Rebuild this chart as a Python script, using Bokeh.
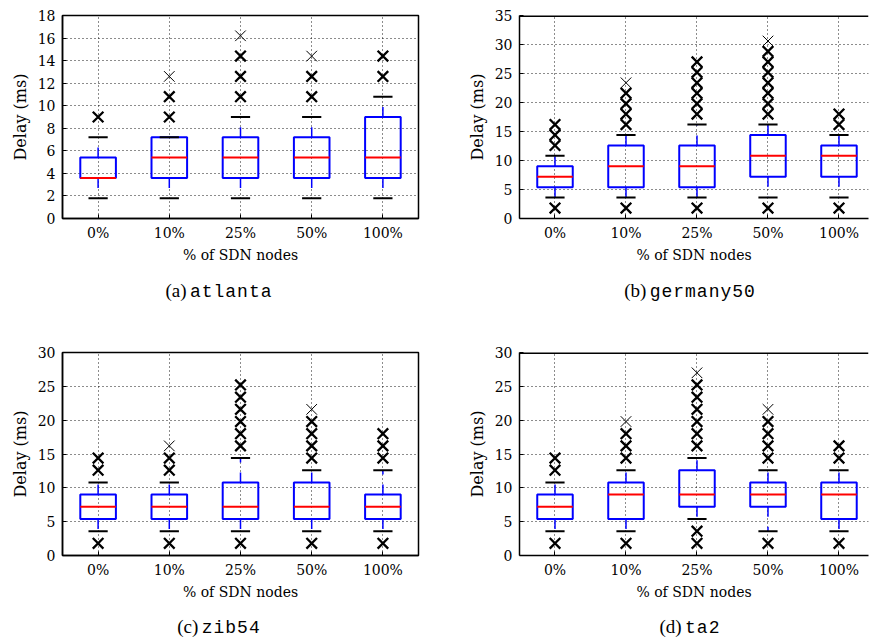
from collections import Counter
from bokeh.plotting import figure
from bokeh.models import FixedTicker, Div, Span
from bokeh.layouts import column, row
from bokeh.embed import file_html
from bokeh.resources import INLINE

categories = ["0%", "10%", "25%", "50%", "100%"]

# (a) atlanta
atlanta_lo = [1.8, 1.8, 1.8, 1.8, 1.8]
atlanta_q1 = [3.6, 3.6, 3.6, 3.6, 3.6]
atlanta_med = [3.6, 5.4, 5.4, 5.4, 5.4]
atlanta_q3 = [5.4, 7.2, 7.2, 7.2, 9.0]
atlanta_hi = [7.2, 7.2, 9.0, 9.0, 10.8]
atlanta_out = [
    [9.0, 9.0],
    [9.0, 9.0, 10.8, 10.8, 12.6],
    [10.8, 10.8, 12.6, 12.6, 14.4, 14.4, 16.2],
    [10.8, 10.8, 12.6, 12.6, 14.4],
    [12.6, 12.6, 14.4, 14.4],
]

# (b) germany50
germany50_lo = [3.6, 3.6, 3.6, 3.6, 3.6]
germany50_q1 = [5.4, 5.4, 5.4, 7.2, 7.2]
germany50_med = [7.2, 9.0, 9.0, 10.8, 10.8]
germany50_q3 = [9.0, 12.6, 12.6, 14.4, 12.6]
germany50_hi = [10.8, 14.4, 16.2, 16.2, 14.4]
germany50_out = [
    [1.8, 1.8, 12.6, 12.6, 14.4, 14.4, 16.2, 16.2],
    [1.8, 1.8, 16.2, 16.2, 18.0, 18.0, 19.8, 19.8, 21.6, 21.6, 23.4],
    [1.8, 1.8, 18.0, 18.0, 19.8, 19.8, 21.6, 21.6, 23.4, 23.4, 25.2, 25.2, 27.0, 27.0],
    [1.8, 1.8, 1.8, 18.0, 18.0, 19.8, 19.8, 21.6, 21.6, 23.4, 23.4, 25.2, 25.2,
     27.0, 27.0, 28.8, 28.8, 30.6],
    [1.8, 1.8, 16.2, 16.2, 18.0, 18.0],
]

# (c) zib54
zib54_lo = [3.6, 3.6, 3.6, 3.6, 3.6]
zib54_q1 = [5.4, 5.4, 5.4, 5.4, 5.4]
zib54_med = [7.2, 7.2, 7.2, 7.2, 7.2]
zib54_q3 = [9.0, 9.0, 10.8, 10.8, 9.0]
zib54_hi = [10.8, 10.8, 14.4, 12.6, 12.6]
zib54_out = [
    [1.8, 1.8, 12.6, 12.6, 14.4, 14.4],
    [1.8, 1.8, 12.6, 12.6, 14.4, 14.4, 16.2],
    [1.8, 1.8, 16.2, 16.2, 18.0, 18.0, 19.8, 19.8, 21.6, 21.6, 23.4, 23.4, 25.2, 25.2],
    [1.8, 1.8, 14.4, 14.4, 16.2, 16.2, 18.0, 18.0, 19.8, 19.8, 21.6],
    [1.8, 1.8, 14.4, 14.4, 16.2, 16.2, 18.0, 18.0],
]

# (d) ta2
ta2_lo = [3.6, 3.6, 5.4, 3.6, 3.6]
ta2_q1 = [5.4, 5.4, 7.2, 7.2, 5.4]
ta2_med = [7.2, 9.0, 9.0, 9.0, 9.0]
ta2_q3 = [9.0, 10.8, 12.6, 10.8, 10.8]
ta2_hi = [10.8, 12.6, 14.4, 12.6, 12.6]
ta2_out = [
    [1.8, 1.8, 12.6, 12.6, 14.4, 14.4],
    [1.8, 1.8, 14.4, 14.4, 16.2, 16.2, 18.0, 18.0, 19.8],
    [1.8, 1.8, 3.6, 3.6, 16.2, 16.2, 18.0, 18.0, 19.8, 19.8, 21.6, 21.6, 23.4, 23.4,
     25.2, 25.2, 27.0],
    [1.8, 1.8, 14.4, 14.4, 16.2, 16.2, 18.0, 18.0, 19.8, 19.8, 21.6],
    [1.8, 1.8, 14.4, 14.4, 16.2, 16.2],
]

y_max = {"a": 18, "b": 35, "c": 30, "d": 30}
y_step = {"a": 2, "b": 5, "c": 5, "d": 5}

TICK_FONT = "DejaVu Serif"
PX_PER_UNIT = 71.2
FIG_H = 265


def style_axis(ax, label_size):
    ax.major_label_text_font = TICK_FONT
    ax.major_label_text_font_size = "14px"
    ax.major_label_text_color = "black"
    ax.axis_label_text_font = TICK_FONT
    ax.axis_label_text_font_size = label_size
    ax.axis_label_text_font_style = "normal"
    ax.axis_label_text_color = "black"
    ax.axis_line_color = "black"
    ax.axis_line_width = 1.5
    ax.major_tick_in = 4
    ax.major_tick_out = 0
    ax.major_tick_line_color = "black"
    ax.minor_tick_line_color = None


def make_panel(lo, q1, med, q3, hi, outs, ymax, ystep, width, left_border, right_border,
               clipped):
    frame_w = width - left_border - right_border
    xend = 0.5 + frame_w / PX_PER_UNIT
    p = figure(width=width, height=FIG_H, x_range=(0.5, xend), y_range=(0, ymax),
               output_backend="svg", toolbar_location=None,
               min_border_left=left_border, min_border_right=right_border,
               min_border_top=15, min_border_bottom=46)
    xs = [i + 1 for i in range(len(categories))]
    yticks = list(range(0, ymax + 1, ystep))

    p.xaxis.ticker = FixedTicker(ticks=xs)
    p.xaxis.major_label_overrides = {x: c for x, c in zip(xs, categories)}
    p.yaxis.ticker = FixedTicker(ticks=yticks)
    p.xgrid.ticker = FixedTicker(ticks=xs)
    style_axis(p.xaxis[0], "14px")
    style_axis(p.yaxis[0], "16px")
    p.xaxis.major_label_standoff = 6
    p.yaxis.major_label_standoff = 7
    p.xaxis.axis_label = "% of SDN nodes"
    p.xaxis.axis_label_standoff = 3
    p.yaxis.axis_label = "Delay (ms)"
    p.yaxis.axis_label_standoff = 5

    p.grid.grid_line_color = "black"
    p.grid.grid_line_dash = "1 3"
    p.grid.grid_line_width = 1
    p.grid.grid_line_alpha = 0.9
    p.background_fill_color = "white"

    if clipped:
        p.outline_line_color = None
        p.add_layout(Span(location=ymax, dimension="width", line_color="black",
                          line_width=3))
    else:
        p.outline_line_color = "black"
        p.outline_line_width = 1.5

    hw = 0.25
    cw = 0.135
    p.segment(x0=xs, y0=q1, x1=xs, y1=lo, line_color="blue", line_width=1.5, line_dash="10 10")
    p.segment(x0=xs, y0=q3, x1=xs, y1=hi, line_color="blue", line_width=1.5, line_dash="10 10")
    p.quad(left=[x - hw for x in xs], right=[x + hw for x in xs], bottom=q1, top=q3,
           fill_color=None, line_color="blue", line_width=2)
    p.segment(x0=[x - cw for x in xs], y0=lo, x1=[x + cw for x in xs], y1=lo,
              line_color="black", line_width=2)
    p.segment(x0=[x - cw for x in xs], y0=hi, x1=[x + cw for x in xs], y1=hi,
              line_color="black", line_width=2)
    p.segment(x0=[x - hw for x in xs], y0=med, x1=[x + hw for x in xs], y1=med,
              line_color="red", line_width=2)
    ox, oy, ow = [], [], []
    for x, vals in zip(xs, outs):
        for v, n in Counter(vals).items():
            ox.append(x)
            oy.append(v)
            ow.append(1.0 if n == 1 else 2.3)
    p.scatter(x=ox, y=oy, marker="x", size=15, line_color="black", line_width=ow)
    return p


def caption(letter, name, width, height, pad_top, pad_left, pad_right):
    html = (
        f'<div style="width:{width}px;height:{height}px;box-sizing:border-box;margin:0;'
        f'padding-top:{pad_top}px;padding-left:{pad_left}px;padding-right:{pad_right}px;'
        f'text-align:center;white-space:nowrap;line-height:22px;color:black;">'
        f'<span style="font-family:\'Liberation Serif\';font-size:19px;">({letter})</span> '
        f'<span style="font-family:\'Liberation Mono\';font-size:18px;letter-spacing:1px;">'
        f'{name}</span></div>'
    )
    return Div(text=html, width=width, height=height, margin=0)


WL, WR = 464, 406
pa = make_panel(atlanta_lo, atlanta_q1, atlanta_med, atlanta_q3, atlanta_hi, atlanta_out,
                y_max["a"], y_step["a"], WL, 62, 46, False)
pb = make_panel(germany50_lo, germany50_q1, germany50_med, germany50_q3, germany50_hi,
                germany50_out, y_max["b"], y_step["b"], WR, 54, 2, True)
pc = make_panel(zib54_lo, zib54_q1, zib54_med, zib54_q3, zib54_hi, zib54_out,
                y_max["c"], y_step["c"], WL, 62, 46, False)
pd = make_panel(ta2_lo, ta2_q1, ta2_med, ta2_q3, ta2_hi, ta2_out,
                y_max["d"], y_step["d"], WR, 54, 2, True)

ca = caption("a", "atlanta", WL, 72, 15, 0, 26)
cb = caption("b", "germany50", WR, 72, 15, 46, 0)
cc = caption("c", "zib54", WL, 40, 14, 0, 26)
cd = caption("d", "ta2", WR, 40, 14, 46, 0)

layout = column(row(pa, pb), row(ca, cb), row(pc, pd), row(cc, cd))

open("out.html", "w").write(file_html(layout, INLINE))
